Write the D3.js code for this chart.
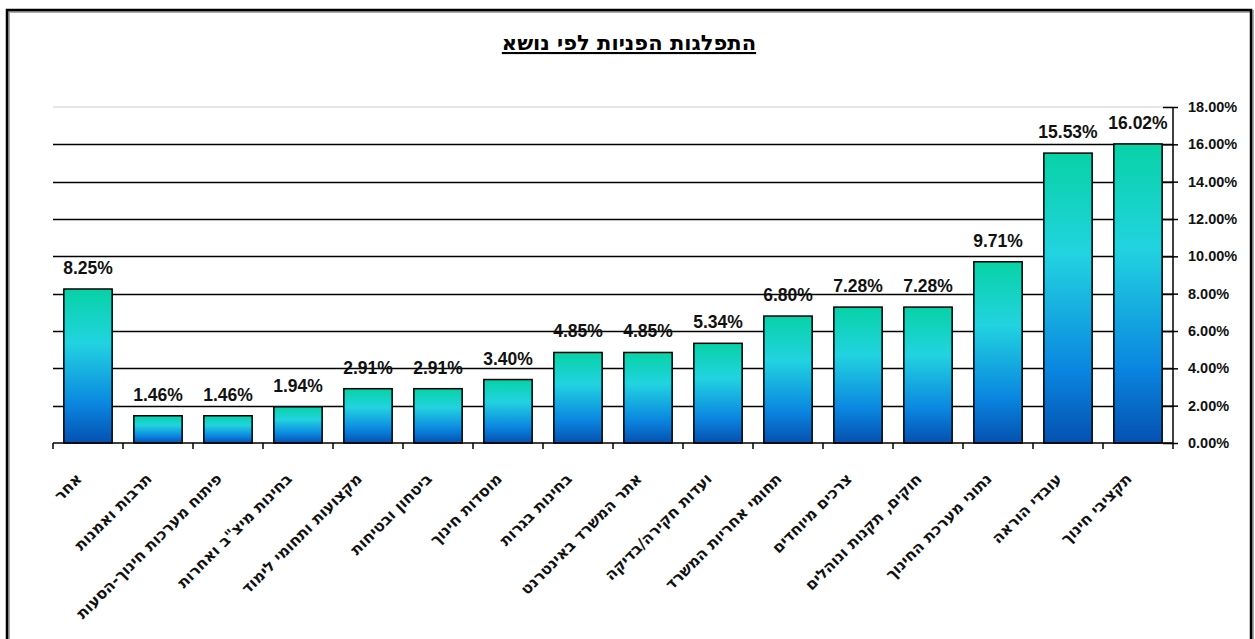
<!DOCTYPE html>
<html>
<head>
<meta charset="utf-8">
<script src="https://cdn.jsdelivr.net/npm/d3@7"></script>
<style>
  body { margin: 0; background: #fff; }
  svg { display: block; font-family: Arial, "Liberation Sans", sans-serif; }
</style>
</head>
<body>
<script>
// Data
const title = "התפלגות הפניות לפי נושא";
const categories = [
  "אחר",
  "תרבות ואמנות",
  "פיתוח מערכות חינוך-הסעות",
  "בחינות מיצ\"ב ואחרות",
  "מקצועות ותחומי לימוד",
  "ביטחון ובטיחות",
  "מוסדות חינוך",
  "בחינות בגרות",
  "אתר המשרד באינטרנט",
  "ועדות חקירה/בדיקה",
  "תחומי אחריות המשרד",
  "צרכים מיוחדים",
  "חוקים, תקנות ונוהלים",
  "נתוני מערכת החינוך",
  "עובדי הוראה",
  "תקציבי חינוך"
];
const values = [8.25, 1.46, 1.46, 1.94, 2.91, 2.91, 3.40, 4.85, 4.85, 5.34, 6.80, 7.28, 7.28, 9.71, 15.53, 16.02];
const yTicks = [0, 2, 4, 6, 8, 10, 12, 14, 16, 18];

const hebFont = "'DejaVu Sans', Arial, sans-serif";

const width = 1255;
const height = 639;
const plot = { left: 53, right: 1173, top: 107, bottom: 443 };

const svg = d3.select("body").append("svg")
  .attr("width", width)
  .attr("height", height);

const defs = svg.append("defs");
const grad = defs.append("linearGradient")
  .attr("id", "barGrad")
  .attr("x1", 0).attr("y1", 0)
  .attr("x2", 0).attr("y2", 1);
grad.append("stop").attr("offset", "0%").attr("stop-color", "#07d2a6");
grad.append("stop").attr("offset", "35%").attr("stop-color", "#22d3e0");
grad.append("stop").attr("offset", "75%").attr("stop-color", "#0a86e0");
grad.append("stop").attr("offset", "100%").attr("stop-color", "#0550b0");

// outer frame
svg.append("rect")
  .attr("x", 8.5).attr("y", 11.5)
  .attr("width", 1244).attr("height", 660)
  .attr("fill", "none")
  .attr("stroke", "#aaa")
  .attr("stroke-width", 3);
svg.append("rect")
  .attr("x", 7).attr("y", 10)
  .attr("width", 1244).attr("height", 660)
  .attr("fill", "none")
  .attr("stroke", "#000")
  .attr("stroke-width", 2.5);

// title
svg.append("text")
  .attr("x", 629)
  .attr("y", 50)
  .attr("text-anchor", "middle")
  .attr("font-family", hebFont)
  .attr("font-weight", "bold")
  .attr("font-size", "21px")
  .attr("text-decoration", "underline")
  .text(title);

const x = d3.scaleBand()
  .domain(categories)
  .range([plot.left, plot.right])
  .paddingInner(0.31)
  .paddingOuter(0.155);

const y = d3.scaleLinear()
  .domain([0, 18])
  .range([plot.bottom, plot.top]);

// plot area top border (light)
svg.append("line")
  .attr("x1", plot.left).attr("x2", plot.right)
  .attr("y1", plot.top).attr("y2", plot.top)
  .attr("stroke", "#ccc");

// gridlines
svg.append("g")
  .selectAll("line")
  .data(yTicks.filter(d => d > 0 && d < 18))
  .join("line")
  .attr("x1", plot.left).attr("x2", plot.right)
  .attr("y1", d => Math.round(y(d)) + 0.5)
  .attr("y2", d => Math.round(y(d)) + 0.5)
  .attr("stroke", "#000")
  .attr("stroke-width", 1.5);

// bars
svg.append("g")
  .selectAll("rect")
  .data(values)
  .join("rect")
  .attr("x", (d, i) => x(categories[i]))
  .attr("y", d => y(d))
  .attr("width", x.bandwidth())
  .attr("height", d => plot.bottom - y(d))
  .attr("fill", "url(#barGrad)")
  .attr("stroke", "#000")
  .attr("stroke-width", 1.5);

// value labels
svg.append("g")
  .selectAll("text")
  .data(values)
  .join("text")
  .attr("x", (d, i) => x(categories[i]) + x.bandwidth() / 2)
  .attr("y", d => y(d) - 15)
  .attr("text-anchor", "middle")
  .attr("font-weight", "bold")
  .attr("font-size", "17.5px")
  .attr("fill", "#111")
  .text(d => d.toFixed(2) + "%");

// right axis
const yAxis = svg.append("g")
  .attr("transform", `translate(${plot.right},0)`)
  .call(d3.axisRight(y).tickValues(yTicks).tickSize(5).tickPadding(10).tickFormat(d => d.toFixed(2) + "%"));
yAxis.select(".domain").attr("stroke", "#000").attr("stroke-width", 1.5).attr("d", `M0,${plot.top}V${plot.bottom}`);
yAxis.selectAll(".tick line").attr("x1", -10).attr("x2", 5).attr("stroke-width", 1.5);
yAxis.selectAll(".tick text")
  .attr("font-family", "Arial, 'Liberation Sans', sans-serif")
  .attr("font-weight", "bold")
  .attr("font-size", "14.5px")
  .attr("fill", "#111");

// bottom axis
const step = x.step();
const xa = svg.append("g");
xa.append("line")
  .attr("x1", plot.left).attr("x2", plot.right)
  .attr("y1", plot.bottom).attr("y2", plot.bottom)
  .attr("stroke", "#000").attr("stroke-width", 1.5);
xa.selectAll("line.tk")
  .data(d3.range(categories.length + 1))
  .join("line")
  .attr("class", "tk")
  .attr("x1", i => plot.left + i * step)
  .attr("x2", i => plot.left + i * step)
  .attr("y1", plot.bottom)
  .attr("y2", plot.bottom + 6)
  .attr("stroke", "#000").attr("stroke-width", 1.5);

xa.selectAll("text")
  .data(categories)
  .join("text")
  .attr("transform", d => `translate(${x(d) + x.bandwidth() / 2 - 9},${plot.bottom + 33}) rotate(-45)`)
  .attr("text-anchor", "end")
  .attr("dy", "0.35em")
  .attr("font-family", hebFont)
  .attr("font-weight", "bold")
  .attr("font-size", "15.5px")
  .attr("fill", "#111")
  .text(d => d);
</script>
</body>
</html>
